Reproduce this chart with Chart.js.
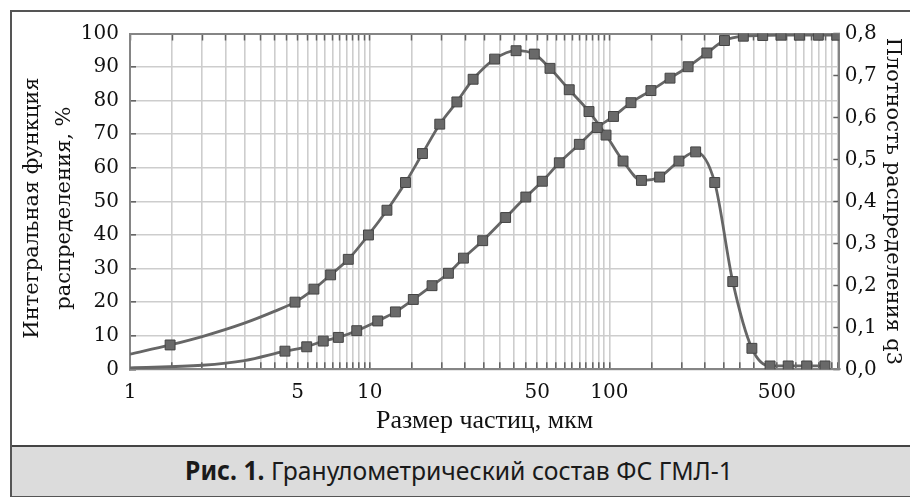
<!DOCTYPE html>
<html>
<head>
<meta charset="utf-8">
<script src="https://cdn.jsdelivr.net/npm/chart.js@4.4.1/dist/chart.umd.min.js"></script>
<style>
body{margin:0;background:#fff;width:910px;height:497px;overflow:hidden;position:relative;}
#frame{position:absolute;left:10px;top:10px;width:910px;height:484px;border:2px solid #555;}
#wrap{position:absolute;left:0;top:0;width:910px;height:445px;}
#caption{position:absolute;left:12px;top:445px;width:900px;height:49px;background:#dcdcdc;border-top:2px solid #444;
font-family:"Noto Sans",sans-serif;font-size:26px;color:#1a1a1a;line-height:46px;}
#caption span{display:block;width:894px;text-align:center;transform:scaleX(0.95);transform-origin:447px 50%;}
#caption b{font-weight:700;}
</style>
</head>
<body>
<div id="frame"></div>
<div id="caption"><span><b>Рис. 1.</b> Гранулометрический состав ФС ГМЛ-1</span></div>
<div id="wrap"><canvas id="chart"></canvas></div>
<script>

// интегральная функция распределения, %
const cumX=[1,2,3,4.43,5.46,6.4,7.4,8.83,10.8,12.8,15.2,18.2,21.3,24.6,29.6,36.9,44.8,52.5,61.8,74.9,89,104,123,149,179,213,255,302,362,436,520,620,744,888];
const cumY=[0.4,1.2,2.6,5.4,6.7,8.4,9.5,11.5,14.4,17.1,20.8,24.9,28.6,33.1,38.3,45.2,51.3,56.0,61.5,67.0,72.0,75.3,79.4,83.0,86.7,90.1,94.2,97.9,99.2,99.4,99.5,99.5,99.5,99.5];
const cumMark=[0,0,0,1,1,1,1,1,1,1,1,1,1,1,1,1,1,1,1,1,1,1,1,1,1,1,1,1,1,1,1,1,1,1];

// плотность распределения q3
const densX=[1,1.47,2,3,4,4.88,5.85,6.87,8.14,9.88,11.8,14.1,16.6,19.6,23.1,27,33.2,40.8,48.6,56.5,68,82.2,96.8,114,136,162,195,229,275,327,393,468,557,665,793];
const densY=[0.036,0.058,0.078,0.110,0.138,0.160,0.191,0.225,0.262,0.320,0.379,0.445,0.514,0.584,0.637,0.691,0.739,0.759,0.751,0.717,0.666,0.614,0.558,0.496,0.450,0.458,0.496,0.518,0.445,0.209,0.050,0.008,0.008,0.008,0.008];
const densMark=[0,1,0,0,0,1,1,1,1,1,1,1,1,1,1,1,1,1,1,1,1,1,1,1,1,1,1,1,1,1,1,1,1,1,1];

const xMin=1;
const xMax=910;
const xLabels=[1,5,10,50,100,500];
const xGrid=[1,1.5,2,2.5,3,3.5,4,4.5,5,5.5,6,6.5,7,7.5,8,8.5,9,9.5,10,
15,20,25,30,35,40,45,50,55,60,65,70,75,80,85,90,95,100,
150,200,250,300,350,400,450,500,550,600,650,700,750,800,850,900];

const leftMax=100;
const rightMax=0.8;

const tickFont={family:"DejaVu Serif",size:20};
const textColor="#111";
const gridColor="#cdcdcd";
const tickColor="#606060";
const borderColor="#858585";
const lineColor="#666";

function pts(xs,ys){
return xs.map((x,i)=>({x:x,y:ys[i]}));
}

function xTicks(scale){
scale.ticks=xGrid.map(v=>({value:v}));
}

function series(label,xs,ys,marks,axis){
return {
label:label,
data:pts(xs,ys),
yAxisID:axis,
borderColor:lineColor,
borderWidth:2.8,
pointStyle:"rect",
pointRadius:marks.map(m=>m?7:0),
pointBackgroundColor:"#696969",
pointBorderColor:"#444",
pointBorderWidth:1,
cubicInterpolationMode:"monotone",
clip:0
};
}

new Chart(document.getElementById("chart"),{
type:"line",
data:{
datasets:[
series("Интегральная функция распределения, %",cumX,cumY,cumMark,"y"),
series("Плотность распределения q3",densX,densY,densMark,"y1")
]
},
options:{
responsive:true,
maintainAspectRatio:false,
animation:false,
events:[],
layout:{padding:{left:0,right:0,top:33.5,bottom:0}},
plugins:{legend:{display:false},tooltip:{enabled:false}},
scales:{
x:{
type:"logarithmic",
position:"bottom",
min:xMin,
max:xMax,
afterBuildTicks:xTicks,
afterFit:s=>{s.height=75.7;},
ticks:{
autoSkip:false,
maxRotation:0,
padding:18,
font:tickFont,
color:textColor,
callback:v=>xLabels.includes(v)?String(v):""
},
grid:{color:gridColor,lineWidth:1.6,tickColor:tickColor,tickWidth:1.5,tickLength:-7},
border:{display:true,color:borderColor,width:2},
title:{display:true,text:"Размер частиц, мкм",font:{family:"Liberation Serif",size:26},color:textColor,padding:{top:0,bottom:8}}
},
xTop:{
type:"logarithmic",
position:"top",
min:xMin,
max:xMax,
afterBuildTicks:xTicks,
afterFit:s=>{s.height=0;},
ticks:{display:false},
grid:{drawOnChartArea:false,tickColor:tickColor,tickWidth:1.5,tickLength:-7},
border:{display:true,color:borderColor,width:2}
},
y:{
position:"left",
min:0,
max:leftMax,
afterFit:s=>{s.width=130;},
ticks:{
stepSize:5,
padding:17,
font:tickFont,
color:textColor,
callback:v=>v%10===0?String(v):""
},
grid:{
color:c=>c.tick&&c.tick.value%10===0?gridColor:"rgba(0,0,0,0)",
lineWidth:1.6,tickColor:tickColor,tickWidth:1.5,tickLength:-6
},
border:{display:true,color:borderColor,width:2},
title:{display:true,text:["Интегральная функция  ","распределения, %  "],font:{family:"DejaVu Serif",size:21,lineHeight:1.5},color:textColor,padding:{top:17,bottom:0}}
},
y1:{
position:"right",
min:0,
max:rightMax,
afterFit:s=>{s.width=70.7;},
ticks:{
stepSize:0.05,
padding:11.5,
font:tickFont,
color:textColor,
callback:v=>Math.abs(v*10-Math.round(v*10))<1e-6?v.toFixed(1).replace(".",","):""
},
grid:{drawOnChartArea:false,tickColor:tickColor,tickWidth:1.5,tickLength:-6},
border:{display:true,color:borderColor,width:2},
title:{display:true,text:"Плотность распределения q3",font:{family:"DejaVu Serif",size:21},color:textColor,padding:{top:5,bottom:0}}
}
}
}
});

</script>
</body>
</html>
